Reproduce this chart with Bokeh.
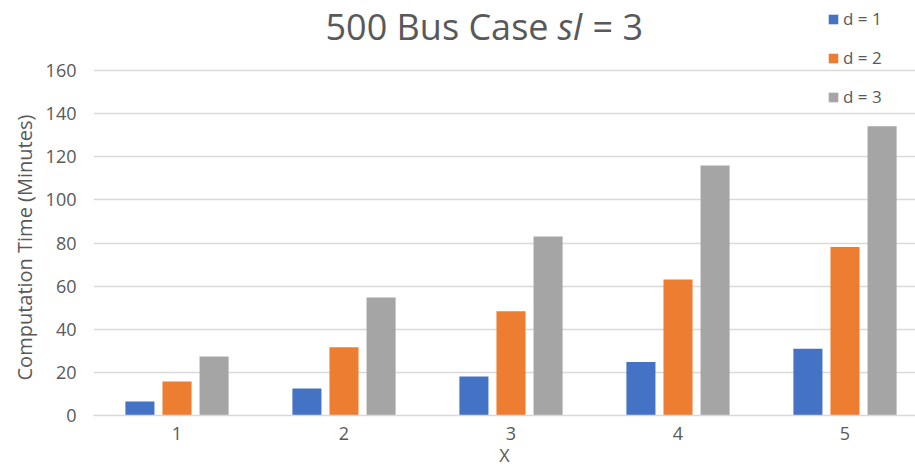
from bokeh.plotting import figure
from bokeh.models import (ColumnDataSource, Range1d, FixedTicker, Legend, LegendItem, Label, Title)
from bokeh.transform import dodge
from bokeh.embed import file_html
from bokeh.resources import INLINE

# ---- data ----
x_cats = [1, 2, 3, 4, 5]
d1 = [6.5, 12.5, 18.1, 24.8, 31.0]
d2 = [15.8, 31.6, 48.3, 63.1, 78.1]
d3 = [27.4, 54.7, 83.0, 116.0, 134.2]
series_names = ["d = 1", "d = 2", "d = 3"]
y_ticks = [0, 20, 40, 60, 80, 100, 120, 140, 160]
title_parts = ["500 Bus Case", "sl", "= 3"]
y_label = "Computation Time (Minutes)"
x_label = "X"

colors = ["#4472C4", "#ED7D31", "#A5A5A5"]
TXT = "#595959"
FONT = "Open Sans"

src = ColumnDataSource(dict(x=x_cats, d1=d1, d2=d2, d3=d3))

PX_PER_UNIT = 2.156      # vertical pixels per minute
PX_PER_CAT = 167.0       # horizontal pixels per category
FW, FH = 822, 415
p = figure(frame_width=FW, frame_height=FH, title_location=None,
           min_border_left=93, min_border_top=0, min_border_right=0, min_border_bottom=61,
           x_range=Range1d(0.5, 0.5 + FW / PX_PER_CAT),
           y_range=Range1d(0, FH / PX_PER_UNIT),
           output_backend="svg", toolbar_location=None, tools="")
p.outline_line_color = None
p.background_fill_color = "white"
p.border_fill_color = "white"

bw = 0.174
off = 0.222
renderers = []
for col, c, o in zip(["d1", "d2", "d3"], colors, [-off, 0, off]):
    r = p.vbar(x=dodge("x", o), top=col, width=bw, bottom=0, source=src,
               fill_color=c, line_color=None)
    renderers.append(r)

# axes
p.yaxis.ticker = FixedTicker(ticks=y_ticks)
p.xaxis.ticker = FixedTicker(ticks=x_cats)
for ax in (p.xaxis[0], p.yaxis[0]):
    ax.major_tick_line_color = None
    ax.minor_tick_line_color = None
    ax.major_tick_out = 0
    ax.major_tick_in = 0
    ax.minor_tick_out = 0
    ax.minor_tick_in = 0
    ax.major_label_text_color = TXT
    ax.major_label_text_font = FONT
    ax.axis_label_text_color = TXT
    ax.axis_label_text_font = FONT
    ax.axis_label_text_font_style = "normal"
p.yaxis.major_label_text_font_size = "18px"
p.xaxis.major_label_text_font_size = "18px"
p.xaxis.axis_label_text_font_size = "18px"
p.yaxis.axis_line_color = None
p.xaxis.axis_line_color = "#d9d9d9"
p.xaxis.axis_line_width = 1.5
p.yaxis.major_label_standoff = 17
p.xaxis.major_label_standoff = 11
p.xaxis.axis_label = x_label
p.xaxis.axis_label_standoff = 0

# y-axis title, centred on the 0..160 span (not on the whole frame)
p.add_layout(Title(text=y_label, align="left", offset=35, standoff=10,
                   text_font=FONT, text_font_size="20px", text_font_style="normal",
                   text_color=TXT), "left")

p.xgrid.grid_line_color = None
p.ygrid.ticker = FixedTicker(ticks=y_ticks)
p.ygrid.grid_line_color = "#d9d9d9"
p.ygrid.grid_line_width = 1.5

# title made of three pieces (italic "sl")
fs = 36
ty = 180.4
styles = ["normal", "italic", "normal"]
xs = [232, 464, 499]
for t, st, xx in zip(title_parts, styles, xs):
    p.add_layout(Label(x=xx, y=ty, x_units="screen", y_units="data", text=t,
                       text_font=FONT, text_font_size=f"{fs}px", text_font_style=st,
                       text_color=TXT, text_baseline="alphabetic", text_align="left"))

legend = Legend(items=[LegendItem(label=n, renderers=[r]) for n, r in zip(series_names, renderers)],
                location=(734, 307), orientation="vertical",
                padding=0, margin=0, spacing=16,
                glyph_width=12, glyph_height=12, label_height=20, label_standoff=4,
                label_text_font=FONT, label_text_font_size="17px", label_text_color=TXT,
                background_fill_alpha=0, border_line_color=None)
p.add_layout(legend)

open("out.html", "w").write(file_html(p, INLINE))
